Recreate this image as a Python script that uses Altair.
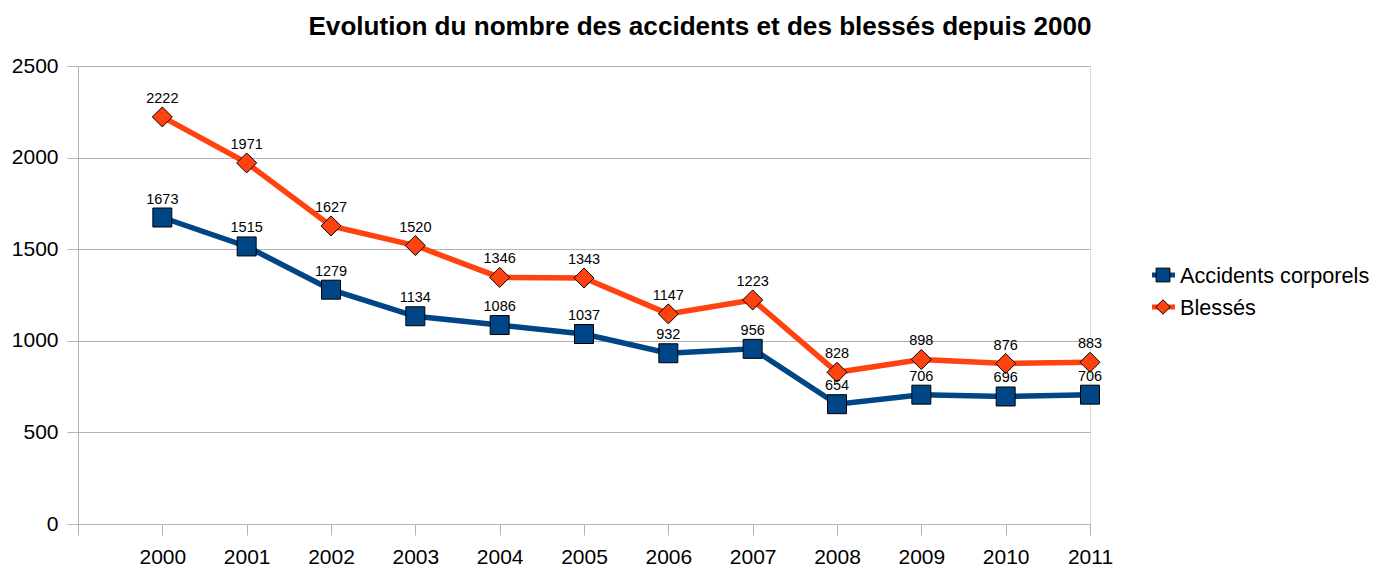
import altair as alt
import pandas as pd

years = list(range(2000, 2012))
accidents = [1673, 1515, 1279, 1134, 1086, 1037, 932, 956, 654, 706, 696, 706]
blesses = [2222, 1971, 1627, 1520, 1346, 1343, 1147, 1223, 828, 898, 876, 883]
series_names = ["Accidents corporels", "Blessés"]
series_colors = ["#004586", "#ff420e"]
series_shapes = ["square", "diamond"]
y_ticks = [0, 500, 1000, 1500, 2000, 2500]
x_ticks = list(range(1999, 2012))
title_text = "Evolution du nombre des accidents et des blessés depuis 2000"

rows = []
for name, vals in zip(series_names, [accidents, blesses]):
    for yr, v in zip(years, vals):
        rows.append({"series": name, "year": yr, "value": v})
df = pd.DataFrame(rows)

FONT = "Liberation Sans"
W, H = 1012, 458

color = alt.Color("series:N", scale=alt.Scale(domain=series_names, range=series_colors), legend=None)
shape = alt.Shape("series:N", scale=alt.Scale(domain=series_names, range=series_shapes), legend=None)
size = alt.Size("series:N", scale=alt.Scale(domain=series_names, range=[360, 400]), legend=None)

x = alt.X("year:Q", scale=alt.Scale(domain=[1999, 2011], nice=False, zero=False),
          axis=alt.Axis(values=x_ticks, format="d", grid=False, title=None,
                        labelExpr="datum.value == 1999 ? '' : datum.label",
                        tickSize=11, labelPadding=11, labelFontSize=21, labelFont=FONT,
                        labelColor="#000000", domainColor="#b3b3b3", tickColor="#b3b3b3",
                        labelFlush=False, labelOverlap=False))
y = alt.Y("value:Q", scale=alt.Scale(domain=[0, 2500], nice=False),
          axis=alt.Axis(values=y_ticks, format="d", grid=True, gridColor="#b3b3b3", title=None,
                        tickSize=11, labelPadding=9, labelFontSize=21, labelFont=FONT,
                        labelColor="#000000", domainColor="#b3b3b3", tickColor="#b3b3b3"))

base = alt.Chart(df)
lines = base.mark_line(strokeWidth=5.5).encode(x=x, y=y, color=color, detail="series:N")
points = base.mark_point(filled=True, stroke="#000000", strokeWidth=1, opacity=1).encode(
    x=x, y=y, fill=alt.Fill("series:N", scale=alt.Scale(domain=series_names, range=series_colors), legend=None),
    shape=shape, size=size)
labels = base.mark_text(fontSize=14.5, font=FONT, color="#000000", dy=-14, baseline="alphabetic").encode(
    x=x, y=y, text=alt.Text("value:Q", format="d"))

title = alt.Chart(pd.DataFrame({"t": [title_text]})).mark_text(
    fontSize=26.1, fontWeight="bold", font=FONT, color="#000000", align="center", baseline="alphabetic"
).encode(x=alt.value(622), y=alt.value(-31), text="t:N")

legend_layers = []
leg_y = [209, 241]
for i, name in enumerate(series_names):
    ld = pd.DataFrame({"series": [name]})
    ly = leg_y[i]
    legend_layers.append(alt.Chart(ld).mark_rule(strokeWidth=5, color=series_colors[i]).encode(
        x=alt.value(1074), x2=alt.value(1097), y=alt.value(ly)))
    legend_layers.append(alt.Chart(ld).mark_point(filled=True, fill=series_colors[i], stroke="#000000",
                                                  strokeWidth=1, opacity=1, shape=series_shapes[i],
                                                  size=190 if i == 0 else 210).encode(
        x=alt.value(1085), y=alt.value(ly)))
    legend_layers.append(alt.Chart(ld).mark_text(fontSize=21.7, font=FONT, color="#000000", align="left",
                                                 baseline="middle").encode(
        x=alt.value(1102), y=alt.value(ly + 1), text="series:N"))

chart = alt.layer(lines, points, labels, title, *legend_layers).properties(
    width=W, height=H,
    autosize=alt.AutoSizeParams(type="none"),
    padding={"left": 70, "top": 58, "right": 280, "bottom": 45},
).configure_view(stroke="#b3b3b3", strokeWidth=1).configure(background="#ffffff")

chart.save("out.html", embed_options={"renderer": "svg", "actions": False})
